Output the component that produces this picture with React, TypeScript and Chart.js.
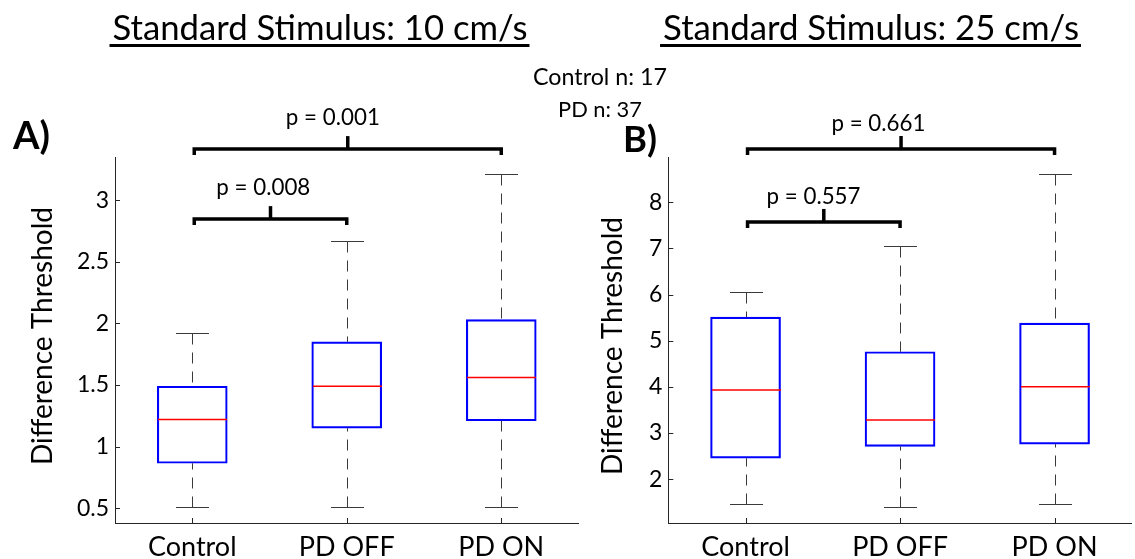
import React, { useEffect, useRef } from "react";
import { Chart, registerables } from "chart.js";
Chart.register(...registerables);

const categories = ["Control", "PD OFF", "PD ON"];

// Panel A – Standard Stimulus 10 cm/s
const minA = [0.51, 0.51, 0.51];
const q1A = [0.865, 1.15, 1.21];
const medA = [1.22, 1.49, 1.56];
const q3A = [1.49, 1.85, 2.03];
const maxA = [1.92, 2.67, 3.215];
const yTicksA = [0.5, 1, 1.5, 2, 2.5, 3];
const pTextsA = ["p = 0.001", "p = 0.008"];
const pairsA = [[0, 2], [0, 1]];
const levelsA = [3.414, 2.846];

// Panel B – Standard Stimulus 25 cm/s
const minB = [1.46, 1.39, 1.46];
const q1B = [2.455, 2.71, 2.76];
const medB = [3.93, 3.28, 4.0];
const q3B = [5.51, 4.76, 5.38];
const maxB = [6.06, 7.05, 8.62];
const yTicksB = [2, 3, 4, 5, 6, 7, 8];
const pTextsB = ["p = 0.661", "p = 0.557"];
const pairsB = [[0, 2], [0, 1]];
const levelsB = [9.154, 7.573];

const W = 1135;
const H = 559;
const FAMILY = "Lato, 'Open Sans', sans-serif";
const AXIS = "#262626";

function fitSize(ctx: CanvasRenderingContext2D, text: string, weight: string, target: number) {
  ctx.font = `${weight} 100px ${FAMILY}`;
  const w = ctx.measureText(text).width;
  return (100 * target) / w;
}

function drawFitted(
  ctx: CanvasRenderingContext2D,
  text: string,
  weight: string,
  target: number,
  x: number,
  y: number,
  align: CanvasTextAlign
) {
  const s = fitSize(ctx, text, weight, target);
  ctx.font = `${weight} ${s}px ${FAMILY}`;
  ctx.textAlign = align;
  ctx.textBaseline = "alphabetic";
  ctx.fillText(text, x, y);
  return ctx.measureText(text).width;
}

type Panel = {
  key: string;
  padLeft: number;
  yAxisW: number;
  padRight: number;
  min: number;
  max: number;
  lo: number[];
  q1: number[];
  med: number[];
  q3: number[];
  hi: number[];
  ticks: number[];
  pTexts: string[];
  pairs: number[][];
  levels: number[];
  labelAt: number[];
  labelDy: number;
  title: string;
  titleCx: number;
  titleW: number;
  letter: string;
  letterX: number;
  letterY: number;
  letterW: number;
  yTitleCx: number;
  yTitleCy: number;
  yTitleLen: number;
  showN: boolean;
};

const panels: Panel[] = [
  {
    key: "A",
    padLeft: 0,
    yAxisW: 115,
    padRight: W - 578.5,
    min: 0.38,
    max: 3.35,
    lo: minA,
    q1: q1A,
    med: medA,
    q3: q3A,
    hi: maxA,
    ticks: yTicksA,
    pTexts: pTextsA,
    pairs: pairsA,
    levels: levelsA,
    labelAt: [0.91, 0.46],
    labelDy: 24,
    title: "Standard Stimulus: 10 cm/s",
    titleCx: 320,
    titleW: 415,
    letter: "A)",
    letterX: 13,
    letterY: 149,
    letterW: 37,
    yTitleCx: 43,
    yTitleCy: 336,
    yTitleLen: 258,
    showN: true,
  },
  {
    key: "B",
    padLeft: 580,
    yAxisW: 88.3,
    padRight: W - 1131.8,
    min: 1.05,
    max: 8.98,
    lo: minB,
    q1: q1B,
    med: medB,
    q3: q3B,
    hi: maxB,
    ticks: yTicksB,
    pTexts: pTextsB,
    pairs: pairsB,
    levels: levelsB,
    labelAt: [0.86, 0.44],
    labelDy: 18,
    title: "Standard Stimulus: 25 cm/s",
    titleCx: 871,
    titleW: 416,
    letter: "B)",
    letterX: 623,
    letterY: 152,
    letterW: 34,
    yTitleCx: 613,
    yTitleCy: 346,
    yTitleLen: 258,
    showN: false,
  },
];

function makePlugin(p: Panel) {
  return {
    id: "boxplot" + p.key,
    afterDatasetsDraw(chart: any) {
      const ctx: CanvasRenderingContext2D = chart.ctx;
      const xs = chart.scales.x;
      const ys = chart.scales.y;
      const area = chart.chartArea;
      ctx.save();
      // inward tick marks
      ctx.strokeStyle = AXIS;
      ctx.lineWidth = 1;
      p.ticks.forEach((v) => {
        const py = Math.round(ys.getPixelForValue(v)) + 0.5;
        ctx.beginPath();
        ctx.moveTo(area.left, py);
        ctx.lineTo(area.left + 5, py);
        ctx.stroke();
      });
      categories.forEach((_, i) => {
        const px = Math.round(xs.getPixelForValue(i)) + 0.5;
        ctx.beginPath();
        ctx.moveTo(px, area.bottom);
        ctx.lineTo(px, area.bottom - 5);
        ctx.stroke();
      });
      // whiskers, caps, medians
      categories.forEach((_, i) => {
        const cx = Math.round(xs.getPixelForValue(i)) + 0.5;
        const yHi = Math.round(ys.getPixelForValue(p.hi[i])) + 0.5;
        const yQ3 = ys.getPixelForValue(p.q3[i]);
        const yQ1 = ys.getPixelForValue(p.q1[i]);
        const yLo = Math.round(ys.getPixelForValue(p.lo[i])) + 0.5;
        const yMed = ys.getPixelForValue(p.med[i]);
        ctx.strokeStyle = "#3a3a3a";
        ctx.lineWidth = 1;
        ctx.setLineDash([11, 8]);
        ctx.beginPath();
        ctx.moveTo(cx, yHi);
        ctx.lineTo(cx, yQ3);
        ctx.stroke();
        ctx.beginPath();
        ctx.moveTo(cx, yLo);
        ctx.lineTo(cx, yQ1);
        ctx.stroke();
        ctx.setLineDash([]);
        ctx.beginPath();
        ctx.moveTo(cx - 16.5, yHi);
        ctx.lineTo(cx + 16.5, yHi);
        ctx.moveTo(cx - 16.5, yLo);
        ctx.lineTo(cx + 16.5, yLo);
        ctx.stroke();
        ctx.strokeStyle = "#ff0000";
        ctx.lineWidth = 1.5;
        ctx.beginPath();
        ctx.moveTo(cx - 34.5, yMed);
        ctx.lineTo(cx + 34.5, yMed);
        ctx.stroke();
      });
      ctx.restore();
    },
    afterDraw(chart: any) {
      const ctx: CanvasRenderingContext2D = chart.ctx;
      const xs = chart.scales.x;
      const ys = chart.scales.y;
      ctx.save();
      ctx.fillStyle = "#000";
      // significance brackets
      p.pairs.forEach((pair, k) => {
        const x1 = xs.getPixelForValue(pair[0]) + 2;
        const x2 = xs.getPixelForValue(pair[1]);
        const yb = ys.getPixelForValue(p.levels[k]);
        const mid = (x1 + x2) / 2;
        ctx.strokeStyle = "#000";
        ctx.lineWidth = 3.5;
        ctx.lineJoin = "miter";
        ctx.beginPath();
        ctx.moveTo(x1, yb + 6);
        ctx.lineTo(x1, yb);
        ctx.lineTo(x2, yb);
        ctx.lineTo(x2, yb + 6);
        ctx.stroke();
        ctx.beginPath();
        ctx.moveTo(mid, yb);
        ctx.lineTo(mid, yb - 13);
        ctx.stroke();
        const lx = xs.getPixelForValue(p.labelAt[k]);
        drawFitted(ctx, p.pTexts[k], "400", 94, lx, yb - p.labelDy, "center");
      });
      // panel title with underline
      const tw = drawFitted(ctx, p.title, "400", p.titleW, p.titleCx, 40, "center");
      ctx.fillRect(p.titleCx - tw / 2 - 3, 44, tw + 5, 3);
      // panel letter
      drawFitted(ctx, p.letter, "700", p.letterW, p.letterX, p.letterY, "left");
      // y axis title
      ctx.save();
      ctx.translate(p.yTitleCx, p.yTitleCy);
      ctx.rotate(-Math.PI / 2);
      const s = fitSize(ctx, "Difference Threshold", "400", p.yTitleLen);
      ctx.font = `400 ${s}px ${FAMILY}`;
      ctx.textAlign = "center";
      ctx.textBaseline = "middle";
      ctx.fillText("Difference Threshold", 0, 0);
      ctx.restore();
      if (p.showN) {
        drawFitted(ctx, "Control n: 17", "400", 134, 600, 85, "center");
        drawFitted(ctx, "PD n: 37", "400", 84, 600, 116.5, "center");
      }
      ctx.restore();
    },
  };
}

function BoxPanel({ p }: { p: Panel }) {
  const ref = useRef<HTMLCanvasElement | null>(null);
  useEffect(() => {
    if (!ref.current) return;
    const chart = new Chart(ref.current, {
      type: "bar",
      data: {
        labels: categories,
        datasets: [
          {
            data: p.q1.map((v, i) => [v, p.q3[i]]) as any,
            backgroundColor: "rgba(0,0,0,0)",
            borderColor: "#0000ff",
            borderWidth: 1.5,
            borderSkipped: false,
            barThickness: 70,
          },
        ],
      },
      options: {
        animation: false,
        responsive: false,
        devicePixelRatio: 1,
        events: [],
        layout: { padding: { left: p.padLeft, right: p.padRight, top: 157, bottom: 0 } },
        plugins: { legend: { display: false }, tooltip: { enabled: false }, title: { display: false } },
        scales: {
          x: {
            type: "category",
            offset: true,
            grid: { display: true, drawOnChartArea: false, drawTicks: false },
            border: { display: true, color: AXIS, width: 1 },
            ticks: {
              color: "#000",
              padding: 8,
              maxRotation: 0,
              font: { family: FAMILY, size: 27 },
            },
            afterFit: (s: any) => {
              s.height = 36;
            },
          },
          y: {
            type: "linear",
            min: p.min,
            max: p.max,
            grid: { display: true, drawOnChartArea: false, drawTicks: false },
            border: { display: true, color: AXIS, width: 1 },
            afterBuildTicks: (s: any) => {
              s.ticks = p.ticks.map((v) => ({ value: v }));
            },
            ticks: {
              color: "#000",
              padding: 6,
              font: { family: FAMILY, size: 23 },
              callback: (v: any) => String(v),
            },
            afterFit: (s: any) => {
              s.width = p.yAxisW;
            },
          },
        },
      },
      plugins: [makePlugin(p)],
    });
    return () => chart.destroy();
  }, [p]);
  return (
    <canvas
      ref={ref}
      width={W}
      height={H}
      style={{ position: "absolute", left: 0, top: 0, width: W, height: H }}
    />
  );
}

export default function App() {
  return (
    <div style={{ position: "absolute", left: 0, top: 0, width: W, height: H, background: "#fff", overflow: "hidden" }}>
      {panels.map((p) => (
        <BoxPanel key={p.key} p={p} />
      ))}
    </div>
  );
}
